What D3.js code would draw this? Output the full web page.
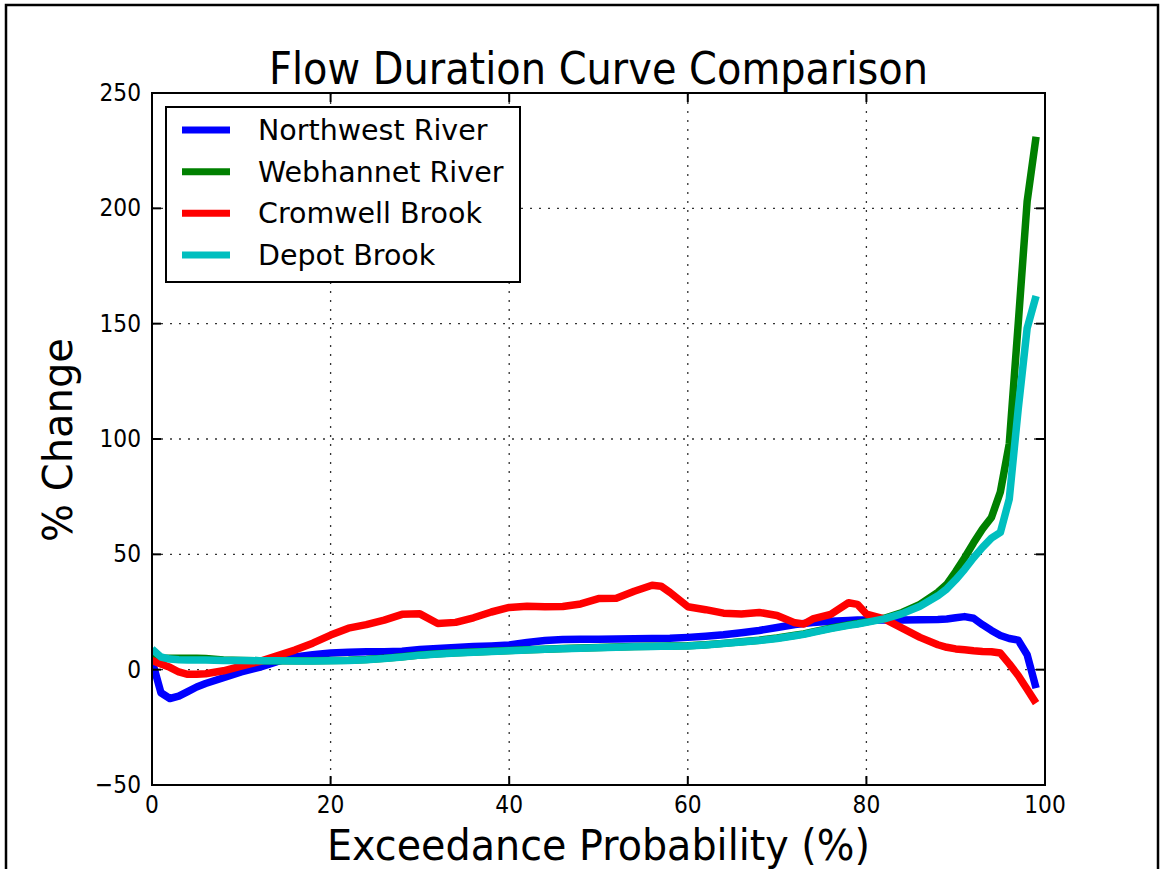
<!DOCTYPE html>
<html lang="en">
<head>
<meta charset="utf-8">
<script src="https://d3js.org/d3.v7.min.js"></script>
<title>Flow Duration Curve Comparison</title>
<style>
    body { margin: 0; padding: 0; background: #fff; }
    text { font-family: "DejaVu Sans", sans-serif; fill: #000; }
</style>
</head>
<body>
<svg id="chart" width="1160" height="869"></svg>
<script>
// exceedance probability (%) where curves were read
var exceed = [0,1,2,3,4,5,6,8,10,12,14,16,18,20,22,24,26,28,30,32,34,36,38,40,42,44,46,48,50,52,54,56,57,58,
    60,62,64,66,68,70,72,73,74,76,78,79,80,82,84,86,88,89,90,91,92,93,94,95,96,97,98,99];

var northwest = [4,-10,-12.5,-11.5,-9.5,-7.5,-6,-3.5,-1,1,3.5,5.5,6.5,7.2,7.6,7.8,7.8,8,8.7,9.2,9.6,10,10.3,10.7,11.8,12.6,13.1,13.2,13.2,13.3,13.4,13.5,13.5,13.6,
    14,14.5,15.1,16,17,18.3,19.6,20,20.4,21,21.3,21.5,21.5,21.5,21.5,21.6,21.8,22,22.5,23,22.3,19.5,17,14.8,13.5,12.8,6.5,-8];
var webhannet = [6,5,5,5,5,5,4.8,4.2,4,3.9,3.9,3.9,3.9,4,4.1,4.4,4.9,5.6,6.4,6.9,7.3,7.7,8,8.3,8.6,8.9,9.2,9.4,9.6,9.8,10,10.1,10.2,10.3,
    10.4,10.8,11.4,12.1,12.8,13.7,14.9,15.5,16.4,18,19.4,20,20.7,22.3,24.8,28.3,33.5,37,42.5,48.5,55,61,66,77,98,150,203,231];
var cromwell = [4,2.5,1,-1,-2,-2,-1.8,-0.5,1.5,3.5,6,8.5,11.5,15,18,19.5,21.5,24,24.2,20,20.5,22.5,25,27,27.5,27.3,27.4,28.5,30.8,31,34,36.6,36.2,33.5,
    27.3,26,24.5,24.1,24.8,23.5,20.3,19.8,22,24,29,28.3,24.1,22,18,14,10.8,9.7,9,8.6,8.2,7.9,7.8,7.2,2.5,-2.5,-8.5,-14.5];
var depot = [9,5.5,4.6,4.3,4.2,4.2,4.2,4,4,3.9,3.9,3.8,3.8,3.9,4,4.3,4.8,5.5,6.3,6.8,7.2,7.6,7.9,8.2,8.5,8.8,9.1,9.3,9.5,9.7,9.9,10,10.1,10.2,
    10.3,10.7,11.3,12,12.6,13.5,14.7,15.3,16.2,17.8,19.2,19.8,20.5,22,24.3,27.5,32,35,39,43.5,48.5,53,57,59.5,74,113,148,162];

var seriesNames = ["Northwest River", "Webhannet River", "Cromwell Brook", "Depot Brook"];
var seriesColors = ["#0000ff", "#008000", "#ff0000", "#00bfbf"];
var seriesValues = [northwest, webhannet, cromwell, depot];

var xTicks = [0, 20, 40, 60, 80, 100];
var yTicks = [-50, 0, 50, 100, 150, 200, 250];

var svg = d3.select("#chart");
// plot box (note: "top" is a reserved window property, so use other names)
var pLeft = 152, pRight = 1045, pTop = 93, pBottom = 785;

var x = d3.scaleLinear().domain([0, 100]).range([pLeft, pRight]);
var y = d3.scaleLinear().domain([-50, 250]).range([pBottom, pTop]);

// outer frame
svg.append("rect")
    .attr("x", 6).attr("y", 5).attr("width", 1152).attr("height", 900)
    .attr("fill", "none").attr("stroke", "#000").attr("stroke-width", 2.5);

// grid
var grid = svg.append("g").attr("stroke", "#333").attr("stroke-width", 1.3).attr("stroke-dasharray", "2,7");
grid.selectAll(".vg").data(xTicks).enter().append("line")
    .attr("x1", d => x(d)).attr("x2", d => x(d)).attr("y1", pTop).attr("y2", pBottom);
grid.selectAll(".hg").data(yTicks).enter().append("line")
    .attr("x1", pLeft).attr("x2", pRight).attr("y1", d => y(d)).attr("y2", d => y(d));

// clip
svg.append("clipPath").attr("id", "clip").append("rect")
    .attr("x", pLeft).attr("y", pTop).attr("width", pRight - pLeft).attr("height", pBottom - pTop);

var line = d3.line()
    .x((d, i) => x(exceed[i]))
    .y(d => y(d));

svg.append("g").attr("clip-path", "url(#clip)")
    .selectAll("path").data(seriesValues).enter().append("path")
    .attr("d", d => line(d))
    .attr("fill", "none")
    .attr("stroke", (d, i) => seriesColors[i])
    .attr("stroke-width", 7.5)
    .attr("stroke-linejoin", "round");

// axes frame and inward ticks
var axes = svg.append("g").attr("stroke", "#000").attr("stroke-width", 2);
axes.append("rect").attr("x", pLeft).attr("y", pTop).attr("width", pRight - pLeft).attr("height", pBottom - pTop).attr("fill", "none");
xTicks.forEach(function (t) {
    axes.append("line").attr("x1", x(t)).attr("x2", x(t)).attr("y1", pBottom).attr("y2", pBottom - 9);
    axes.append("line").attr("x1", x(t)).attr("x2", x(t)).attr("y1", pTop).attr("y2", pTop + 9);
});
yTicks.forEach(function (t) {
    axes.append("line").attr("x1", pLeft).attr("x2", pLeft + 9).attr("y1", y(t)).attr("y2", y(t));
    axes.append("line").attr("x1", pRight).attr("x2", pRight - 9).attr("y1", y(t)).attr("y2", y(t));
});

// tick labels
svg.selectAll(".xt").data(xTicks).enter().append("text")
    .attr("class", "cond")
    .attr("x", d => x(d)).attr("y", 813)
    .attr("text-anchor", "middle").attr("font-size", 25)
    .text(d => d);
svg.selectAll(".yt").data(yTicks).enter().append("text")
    .attr("class", "cond")
    .attr("x", pLeft - 11).attr("y", d => y(d) + 8)
    .attr("text-anchor", "end").attr("font-size", 25)
    .text(d => d < 0 ? "\u2212" + Math.abs(d) : d);

// titles
svg.append("text")
    .attr("x", (pLeft + pRight) / 2).attr("y", 84)
    .attr("text-anchor", "middle").attr("font-size", 45)
    .attr("textLength", 659).attr("lengthAdjust", "spacingAndGlyphs")
    .text("Flow Duration Curve Comparison");
svg.append("text")
    .attr("x", (pLeft + pRight) / 2).attr("y", 860)
    .attr("text-anchor", "middle").attr("font-size", 42)
    .attr("textLength", 543).attr("lengthAdjust", "spacingAndGlyphs")
    .text("Exceedance Probability (%)");
svg.append("text")
    .attr("transform", "translate(72,440) rotate(-90)")
    .attr("text-anchor", "middle").attr("font-size", 40)
    .text("% Change");

// squeeze tick labels a bit like the original
svg.selectAll("text.cond").each(function () {
    var len = this.getComputedTextLength();
    d3.select(this).attr("textLength", len * 0.87).attr("lengthAdjust", "spacingAndGlyphs");
});

// legend
var legend = svg.append("g");
legend.append("rect")
    .attr("x", 166).attr("y", 107).attr("width", 354).attr("height", 175)
    .attr("fill", "#fff").attr("stroke", "#000").attr("stroke-width", 2);
var rowY = d3.scalePoint().domain(seriesNames).range([130, 255]);
seriesNames.forEach(function (name, i) {
    legend.append("line")
        .attr("x1", 182).attr("x2", 230).attr("y1", rowY(name)).attr("y2", rowY(name))
        .attr("stroke", seriesColors[i]).attr("stroke-width", 7);
    legend.append("text")
        .attr("x", 258).attr("y", rowY(name) + 10)
        .attr("font-size", 28.5)
        .text(name);
});
</script>
</body>
</html>
